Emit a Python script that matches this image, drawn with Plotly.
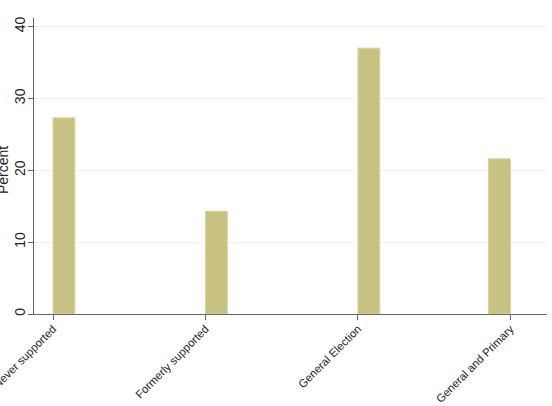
import math
import plotly.graph_objects as go

categories = ["Never supported", "Formerly supported", "General Election", "General and Primary"]
codes = [1, 2, 3, 4]
percent = [27.3, 14.3, 37.0, 21.6]
y_ticks = [0, 10, 20, 30, 40]

# histogram-style binning (21 bins over [1,4]) as in the original
n_bins = 21
lo, hi = min(codes), max(codes)
bw = (hi - lo) / n_bins
centers = []
for c in codes:
    b = min(int(math.floor((c - lo) / bw + 1e-9)), n_bins - 1)
    centers.append(lo + (b + 0.5) * bw)

fig = go.Figure(go.Bar(
    x=centers, y=percent, width=bw,
    marker=dict(color="rgb(200,194,130)", line=dict(color="rgb(214,210,160)", width=1)),
))

font = "Liberation Sans, Arial, sans-serif"
W, H = 552, 406
ml, mr, mt, mb = 34, 5, 18, 92
fig.update_layout(
    width=W, height=H,
    margin=dict(l=ml, r=mr, t=mt, b=mb),
    plot_bgcolor="white", paper_bgcolor="white",
    showlegend=False,
    font=dict(family=font, color="#222"),
    xaxis=dict(
        range=[0.875, 4.24], tickmode="array", tickvals=codes, ticktext=categories,
        tickangle=-45, tickfont=dict(size=11.3), ticks="outside", ticklen=5, tickcolor="#666",
        showline=True, linecolor="#666", linewidth=1, showgrid=False, zeroline=False,
        automargin=False, ticklabeloverflow="allow", ticklabelstandoff=-2,
    ),
    yaxis=dict(
        range=[0, 41.2], tickmode="array", tickvals=y_ticks,
        tickangle=-90, tickfont=dict(size=14), ticks="outside", ticklen=5, tickcolor="#666",
        showline=True, linecolor="#666", linewidth=1,
        showgrid=True, gridcolor="#f0f0f0", gridwidth=1, zeroline=False,
        automargin=False, ticklabeloverflow="allow", ticklabelstandoff=-3,
    ),
    annotations=[dict(
        text="Percent", textangle=-90, showarrow=False,
        xref="paper", yref="paper",
        x=(3 - ml) / (W - ml - mr), y=(H - 170 - mb) / (H - mt - mb),
        xanchor="center", yanchor="middle",
        font=dict(size=14, color="#222"),
    )],
)

fig.write_html("out.html")
